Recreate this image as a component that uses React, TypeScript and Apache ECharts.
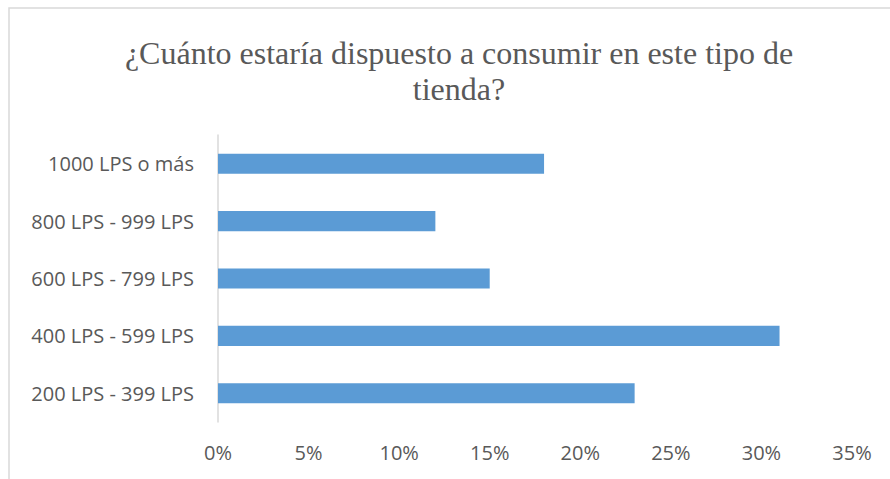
import React, { useEffect, useRef } from "react";
import * as echarts from "echarts";

const categories = ["200 LPS - 399 LPS", "400 LPS - 599 LPS", "600 LPS - 799 LPS", "800 LPS - 999 LPS", "1000 LPS o más"];
const values = [0.23, 0.31, 0.15, 0.12, 0.18];
const titleText = "¿Cuánto estaría dispuesto a consumir en este tipo de\ntienda?";

export default function App() {
  const ref = useRef<HTMLDivElement>(null);
  useEffect(() => {
    const chart = echarts.init(ref.current!, null, { renderer: "svg" });
    chart.setOption({
      animation: false,
      backgroundColor: "#ffffff",
      title: {
        text: titleText,
        left: 454,
        top: 30,
        textAlign: "center",
        textStyle: {
          fontFamily: "Liberation Serif",
          fontSize: 32,
          fontWeight: "normal",
          color: "#595959",
          lineHeight: 36,
        },
      },
      graphic: [
        {
          type: "rect",
          shape: { x: 9, y: 8, width: 900, height: 500 },
          style: { fill: "none", stroke: "#d9d9d9", lineWidth: 1.5 },
          silent: true,
        },
      ],
      grid: { left: 218, right: 38, top: 135, bottom: 57, containLabel: false },
      xAxis: {
        type: "value",
        min: 0,
        max: 0.35,
        interval: 0.05,
        axisLine: { show: false },
        axisTick: { show: false },
        splitLine: { show: false },
        axisLabel: {
          formatter: (v: number) => Math.round(v * 100) + "%",
          fontFamily: "Open Sans",
          fontSize: 20,
          color: "#595959",
          margin: 20,
        },
      },
      yAxis: {
        type: "category",
        data: categories,
        axisLine: { show: true, lineStyle: { color: "#d9d9d9", width: 1.5 } },
        axisTick: { show: false },
        axisLabel: {
          fontFamily: "Open Sans",
          fontSize: 20,
          color: "#595959",
          margin: 24,
        },
      },
      series: [
        {
          type: "bar",
          data: values,
          barWidth: "35%",
          itemStyle: { color: "#5b9bd5" },
        },
      ],
    });
    return () => chart.dispose();
  }, []);
  return <div ref={ref} style={{ position: "fixed", left: 0, top: 0, width: 890, height: 479 }} />;
}
